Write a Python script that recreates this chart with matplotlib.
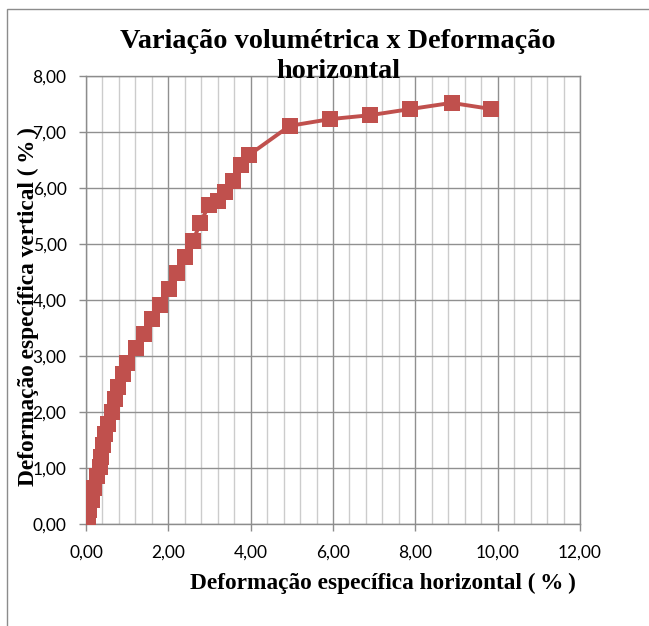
import matplotlib
matplotlib.use("Agg")
import matplotlib.pyplot as plt
from matplotlib import ticker
from matplotlib.patches import Rectangle

# horizontal strain (%) and vertical strain (%)
def_horizontal = [
    0.00, 0.04, 0.08, 0.14, 0.20, 0.27, 0.33, 0.37, 0.42, 0.47, 0.53,
    0.63, 0.71, 0.77, 0.91, 1.00, 1.22, 1.40, 1.61, 1.80, 2.01, 2.21,
    2.41, 2.60, 2.78, 2.99, 3.20, 3.37, 3.58, 3.76, 3.96,
    4.95, 5.93, 6.90, 7.88, 8.88, 9.85,
]
def_vertical = [
    0.00, 0.12, 0.25, 0.43, 0.64, 0.85, 1.02, 1.20, 1.41, 1.61, 1.79,
    2.00, 2.23, 2.45, 2.67, 2.88, 3.14, 3.39, 3.66, 3.91, 4.20, 4.48,
    4.76, 5.06, 5.38, 5.70, 5.77, 5.93, 6.13, 6.41, 6.59,
    7.11, 7.23, 7.30, 7.41, 7.52, 7.41,
]

W, H = 649, 626
RED = "#C0504D"


def comma_fmt(x, pos):
    return f"{x:.2f}".replace(".", ",")


fig = plt.figure(figsize=(W / 100, H / 100), dpi=100)
fig.patches.append(
    Rectangle((7 / W, -0.1), 1.2, 1 - 9 / H + 0.1, transform=fig.transFigure,
              fill=False, edgecolor="#8c8c8c", linewidth=1.0)
)

ax = fig.add_axes([86 / W, (H - 524) / H, (580 - 86) / W, (524 - 76) / H])
ax.plot(def_horizontal, def_vertical, "-s", color=RED, linewidth=2.8,
        markersize=11, markeredgewidth=0, zorder=3)

ax.set_xlim(0, 12)
ax.set_ylim(0, 8)
ax.xaxis.set_major_locator(ticker.MultipleLocator(2))
ax.xaxis.set_minor_locator(ticker.MultipleLocator(0.4))
ax.yaxis.set_major_locator(ticker.MultipleLocator(1))
ax.xaxis.set_major_formatter(comma_fmt)
ax.yaxis.set_major_formatter(comma_fmt)

ax.grid(True, which="major", color="#909090", linewidth=1.0)
ax.grid(True, which="minor", axis="x", color="#cccccc", linewidth=1.0)
ax.set_axisbelow(True)
for s in ax.spines.values():
    s.set_color("#8c8c8c")
    s.set_linewidth(1.0)

ax.tick_params(which="major", direction="out", length=5, width=1.0,
               color="#8c8c8c", labelsize=12.5, labelfontfamily="Lato")
ax.tick_params(axis="x", pad=10)
ax.tick_params(axis="y", pad=9)
ax.tick_params(which="minor", length=0)

fig.text(338 / W, 1 - 42 / H, "Variação volumétrica x Deformação",
         ha="center", va="center", fontsize=20.3, fontweight="bold",
         family="Liberation Serif")
fig.text(338 / W, 1 - 72 / H, "horizontal",
         ha="center", va="center", fontsize=20.3, fontweight="bold",
         family="Liberation Serif")

fig.text(383 / W, 1 - 583 / H, "Deformação específica horizontal (\u2009%\u2009)",
         ha="center", va="center", fontsize=16.8, fontweight="bold",
         family="Liberation Serif")
fig.text(28 / W, 1 - 307 / H, "Deformação específica vertical (\u2009%\u2009)",
         ha="center", va="center", rotation=90, fontsize=16.8,
         fontweight="bold", family="Liberation Serif")

fig.savefig("out.png", dpi=100)
